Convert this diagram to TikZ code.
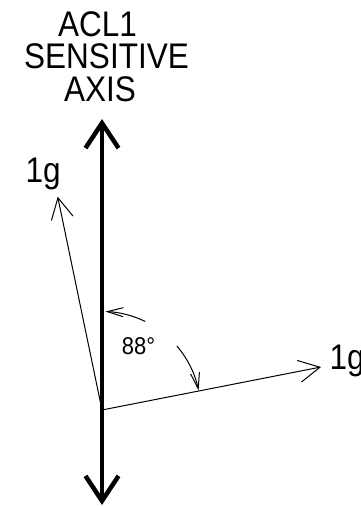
\documentclass[tikz,border=0pt]{standalone}
\usepackage{fontspec}
\setmainfont{Liberation Sans}
\usetikzlibrary{arrows.meta,calc}
\begin{document}
\begin{tikzpicture}[x=1pt,y=1pt,
  axisline/.style={line width=4.5pt, {Straight Barb[length=25pt,width=33pt]}-{Straight Barb[length=25pt,width=33pt]}},
  vec/.style={line width=1pt, -{Straight Barb[length=21pt,width=22pt]}},
  anglearc/.style={line width=1pt, -{Straight Barb[length=16pt,width=9pt]}},
  big/.style={font=\fontsize{31.5}{33}\selectfont, inner sep=0pt, yscale=1.13, transform shape},
  titleline/.style={big, anchor=base, text height=22.5pt, text depth=0pt},
  small/.style={font=\fontsize{22}{24}\selectfont, inner sep=0pt, yscale=1.1, transform shape}]
\useasboundingbox (0,0) rectangle (361,506);
\clip (0,0) rectangle (361,506);
% title
\node[titleline] (t1) at (97.5,469) {ACL1};
\node[titleline] (t2) at (106.5,437.5) {SENSITIVE};
\node[titleline] (t3) at (100,404.5) {AXIS};
% points
\coordinate (O) at (102,96);
\coordinate (top) at (102,387);
\coordinate (bot) at (102,1);
\coordinate (L) at (57.7,309.3);
\coordinate (R) at (321,139);
% sensitive axis
\draw[axisline] (bot) -- (top);
% vectors
\draw[vec] (O) -- (L);
\draw[vec] (O) -- (R);
% angle arcs
\draw[anglearc] ($(O)+(64:98.5pt)$) arc[start angle=64,end angle=88,radius=98.5pt];
\draw[anglearc] ($(O)+(40.5:98.5pt)$) arc[start angle=40.5,end angle=11.4,radius=98.5pt];
% labels
\node[big,anchor=base west] (gl) at (25.5,323) {1g};
\node[big,anchor=base west] (gr) at (329.5,136) {1g};
\node[small,anchor=base west] (ang) at (121.7,151.7) {88°};
\end{tikzpicture}
\end{document}
